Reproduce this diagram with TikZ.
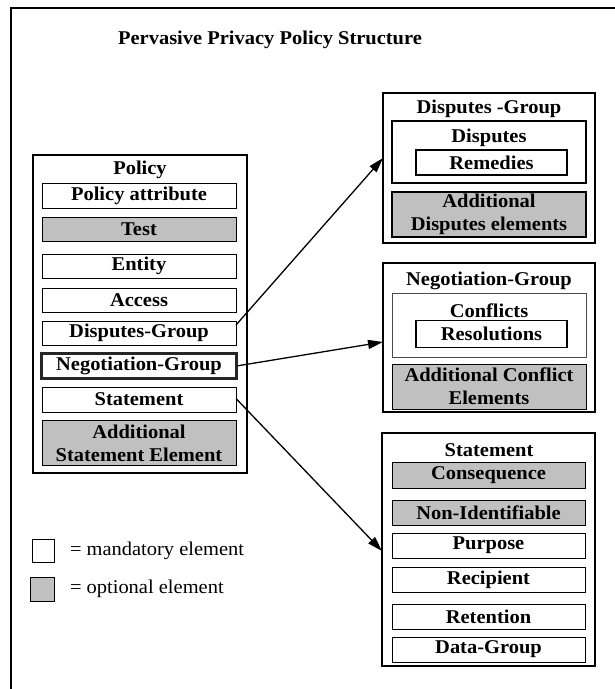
\documentclass[tikz,border=0pt]{standalone}
\usepackage{fontspec}
\setmainfont{Liberation Serif}[FakeStretch=1.05]
\usetikzlibrary{arrows.meta}
\definecolor{optgray}{RGB}{192,192,192}
\begin{document}
\begin{tikzpicture}[x=1pt,y=-1pt,
  every node/.style={inner sep=0pt,outer sep=0pt},
  txt/.style={font=\fontsize{19.5}{23}\selectfont\bfseries,align=center},
  el/.style={txt,draw,line width=0.9pt,fill=white,minimum width=194pt,minimum height=25pt},
  opt/.style={el,fill=optgray},
  grp/.style={draw,line width=1.6pt,fill=white},
  conn/.style={line width=1.3pt,-{Triangle[length=15pt,width=9pt]}},
  legtxt/.style={font=\fontsize{19.5}{23}\selectfont,anchor=west}
]
\useasboundingbox (0,0) rectangle (615,689);
% frame (only top and left edges visible)
\draw[line width=1.5pt] (11,689) -- (11,8) -- (615,8);
\node[txt] (title) at (270,40) {Pervasive Privacy Policy Structure};

% Policy
\node[grp,minimum width=214pt,minimum height=318pt] (pol) at (140,314) {};
\node[txt] (polt) at (140,170) {Policy};
\node[el] (pa) at (139,195.5) {Policy attribute};
\node[opt,minimum height=24pt] (test) at (139,229) {Test};
\node[el,minimum height=24pt] (ent) at (139,266) {Entity};
\node[el,minimum height=24pt] (acc) at (139,300) {Access};
\node[el,minimum height=24pt] (dg) at (139,333) {Disputes-Group};
\node[el,line width=3pt,draw=black!85,minimum width=195pt,minimum height=25pt] (ng) at (139,366) {Negotiation-Group};
\node[el] (st) at (139,399.5) {Statement};
\node[opt,minimum height=45pt] (ase) at (139,443) {Additional\\Statement Element};

% Disputes group
\node[grp,minimum width=212pt,minimum height=150pt] (dgb) at (489,168) {};
\node[txt] (dgt) at (489,109) {Disputes -Group};
\node[draw,line width=1.5pt,minimum width=194pt,minimum height=62pt] (disp) at (489,152) {};
\node[txt] (dispt) at (489,138) {Disputes};
\node[el,line width=1.5pt,minimum width=151pt] (rem) at (491.5,162.5) {Remedies};
\node[opt,line width=1.2pt,minimum height=45pt] (ade) at (489,214.5) {Additional\\Disputes elements};

% Negotiation group
\node[grp,minimum width=212pt,minimum height=149pt] (ngb) at (489,337.5) {};
\node[txt] (ngt) at (489,281) {Negotiation-Group};
\node[draw=black!70,line width=0.8pt,minimum width=194pt,minimum height=64pt] (conf) at (489,325) {};
\node[txt] (conft) at (489,311) {Conflicts};
\node[el,line width=1.8pt,minimum width=151pt,minimum height=27pt] (res) at (491.5,334) {Resolutions};
\node[opt,minimum height=45pt] (ace) at (489,386.5) {Additional Conflict\\Elements};

% Statement group
\node[grp,minimum width=213pt,minimum height=233pt] (stb) at (488.5,549.5) {};
\node[txt] (stt) at (489,450) {Statement};
\node[opt,minimum width=193pt,minimum height=26pt] (cons) at (488.5,475) {Consequence};
\node[opt,minimum width=193pt] (nonid) at (488.5,512.5) {Non-Identifiable};
\node[el,minimum width=193pt] (purp) at (488.5,545.5) {Purpose};
\node[el,minimum width=193pt] (reci) at (488.5,579.5) {Recipient};
\node[el,minimum width=193pt] (rete) at (488.5,616.5) {Retention};
\node[el,minimum width=193pt] (datg) at (488.5,649.5) {Data-Group};

% connectors
\draw[conn] ([yshift=8pt]dg.east) -- ([yshift=10pt]dgb.west);
\draw[conn] (ng.east) -- ([yshift=-4.5pt]ngb.west);
\draw[conn] ([yshift=1pt]st.east) -- ([yshift=-1.5pt]stb.west);

% legend
\node[draw,line width=0.9pt,fill=white,minimum width=22pt,minimum height=23pt] (lm) at (43,550.5) {};
\node[draw,line width=0.9pt,fill=optgray,minimum width=24pt,minimum height=24pt] (lo) at (42,589) {};
\node[legtxt] (lmt) at (70,551) {= mandatory element};
\node[legtxt] (lot) at (70,589) {= optional element};
\end{tikzpicture}
\end{document}
